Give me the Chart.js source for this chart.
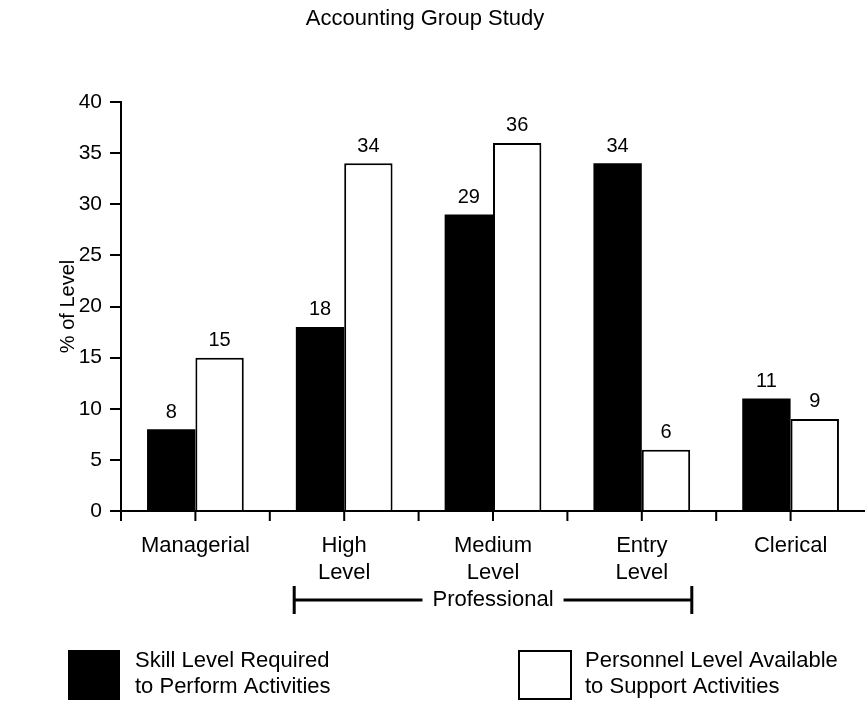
<!DOCTYPE html>
<html>
<head>
<meta charset="utf-8">
<style>
  html, body { margin: 0; padding: 0; background: #fff; }
  #wrap { width: 865px; height: 704px; position: relative; }
</style>
<script src="https://cdn.jsdelivr.net/npm/chart.js@4/dist/chart.umd.min.js"></script>
</head>
<body>
<div id="wrap"><canvas id="c" width="865" height="704"></canvas></div>
<script>
// Accounting group study: skill level required vs. personnel level available
const categories = [['Managerial'], ['High', 'Level'], ['Medium', 'Level'], ['Entry', 'Level'], ['Clerical']];
const skillRequired = [8, 18, 29, 34, 11];
const personnelAvailable = [15, 34, 36, 6, 9];
const yTicks = [0, 5, 10, 15, 20, 25, 30, 35, 40];
const seriesNames = [['Skill Level Required', 'to Perform Activities'], ['Personnel Level Available', 'to Support Activities']];
const titleText = 'Accounting Group Study';
const yTitle = '% of Level';
const groupLabel = 'Professional';

const FONT = '"Liberation Sans", Arial, Helvetica, sans-serif';
const INK = '#000';

// value labels above each bar
const valueLabels = {
  id: 'valueLabels',
  afterDatasetsDraw(chart) {
    const ctx = chart.ctx;
    ctx.save();
    ctx.font = '20px ' + FONT;
    ctx.fillStyle = INK;
    ctx.textAlign = 'center';
    ctx.textBaseline = 'bottom';
    chart.data.datasets.forEach((ds, i) => {
      chart.getDatasetMeta(i).data.forEach((bar, j) => {
        ctx.fillText(String(ds.data[j]), bar.x, bar.y - 7);
      });
    });
    ctx.restore();
  }
};

// title, x tick marks, "Professional" bracket and legend
const decorations = {
  id: 'decorations',
  afterDraw(chart) {
    const ctx = chart.ctx;
    const xs = chart.scales.x;
    const area = chart.chartArea;
    ctx.save();
    ctx.fillStyle = INK;
    ctx.strokeStyle = INK;

    // title
    ctx.font = '22px ' + FONT;
    ctx.textAlign = 'center';
    ctx.textBaseline = 'middle';
    ctx.fillText(titleText, 425, 19);

    // tick marks on the category axis: centres and boundaries
    ctx.lineWidth = 2;
    const n = categories.length;
    const w = (xs.getPixelForValue(1) - xs.getPixelForValue(0));
    ctx.beginPath();
    for (let i = 0; i < n; i++) {
      const cx = xs.getPixelForValue(i);
      [cx - w / 2, cx].forEach(px => {
        ctx.moveTo(px, area.bottom);
        ctx.lineTo(px, area.bottom + 10);
      });
    }
    ctx.stroke();

    // bracket over the professional levels
    const left = xs.getPixelForValue(1) - 50;
    const right = xs.getPixelForValue(3) + 50;
    const by = 600;
    const mid = xs.getPixelForValue(2);
    ctx.font = '22px ' + FONT;
    const tw = ctx.measureText(groupLabel).width;
    ctx.lineWidth = 3;
    ctx.beginPath();
    ctx.moveTo(left, by); ctx.lineTo(mid - tw / 2 - 10, by);
    ctx.moveTo(mid + tw / 2 + 10, by); ctx.lineTo(right, by);
    ctx.moveTo(left, by - 14); ctx.lineTo(left, by + 14);
    ctx.moveTo(right, by - 14); ctx.lineTo(right, by + 14);
    ctx.stroke();
    ctx.textAlign = 'center';
    ctx.textBaseline = 'middle';
    ctx.fillText(groupLabel, mid, by);

    // legend
    ctx.fillRect(68, 650, 52, 50);
    ctx.lineWidth = 2;
    ctx.strokeRect(519, 651, 52, 48);
    ctx.font = '22px ' + FONT;
    ctx.textAlign = 'left';
    ctx.textBaseline = 'middle';
    ctx.fillText(seriesNames[0][0], 135, 661);
    ctx.fillText(seriesNames[0][1], 135, 687);
    ctx.fillText(seriesNames[1][0], 585, 661);
    ctx.fillText(seriesNames[1][1], 585, 687);
    ctx.restore();
  }
};

new Chart(document.getElementById('c'), {
  type: 'bar',
  data: {
    labels: categories,
    datasets: [
      {
        label: seriesNames[0].join(' '),
        data: skillRequired,
        backgroundColor: '#000',
        borderColor: '#000',
        borderWidth: 0,
        barPercentage: 1,
        categoryPercentage: 0.65
      },
      {
        label: seriesNames[1].join(' '),
        data: personnelAvailable,
        backgroundColor: '#fff',
        borderColor: '#000',
        borderWidth: 2,
        borderSkipped: 'bottom',
        barPercentage: 1,
        categoryPercentage: 0.65
      }
    ]
  },
  options: {
    responsive: false,
    animation: false,
    events: [],
    layout: { padding: { top: 102, left: 0, right: -4, bottom: 0 } },
    plugins: {
      legend: { display: false },
      title: { display: false },
      tooltip: { enabled: false }
    },
    scales: {
      x: {
        offset: true,
        grid: { display: false, drawTicks: false },
        border: { display: true, color: '#000', width: 2 },
        ticks: {
          color: INK,
          font: { family: FONT, size: 22, lineHeight: 1.23 },
          padding: 21,
          maxRotation: 0,
          autoSkip: false
        },
        afterFit(scale) { scale.height = 193; }
      },
      y: {
        min: 0,
        max: 40,
        afterBuildTicks(scale) { scale.ticks = yTicks.map(v => ({ value: v })); },
        grid: { drawOnChartArea: false, drawTicks: true, tickLength: 11, color: '#000', lineWidth: 2 },
        border: { display: true, color: '#000', width: 2 },
        ticks: {
          color: INK,
          font: { family: FONT, size: 21 },
          padding: 8
        },
        title: {
          display: true,
          text: yTitle,
          color: INK,
          font: { family: FONT, size: 20 },
          padding: { top: 56, bottom: 0 }
        },
        afterFit(scale) { scale.width = 121; }
      }
    }
  },
  plugins: [valueLabels, decorations]
});
</script>
</body>
</html>
